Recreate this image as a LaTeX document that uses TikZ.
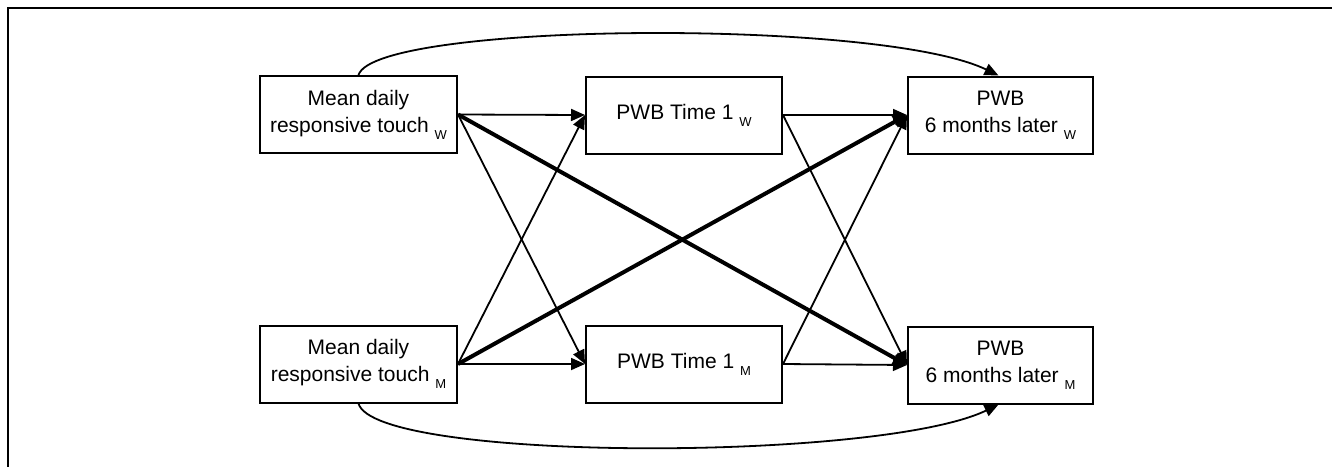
\documentclass[tikz,border=0pt]{standalone}
\usepackage{fontspec}
\setmainfont{Liberation Sans}
\usetikzlibrary{arrows.meta}
\newcommand\grp[1]{~\raisebox{-3.6pt}{\fontsize{6.5}{7}\selectfont #1}}

\begin{document}
\begin{tikzpicture}
      [x=0.5pt, y=-0.5pt,
      every node/.style={font=\fontsize{10.5}{13.5}\selectfont},
      varbox/.style={draw, line width=1pt, align=center, minimum height=38.5pt, inner sep=0pt},
      thinarrow/.style={line width=0.9pt, -{Triangle[length=7pt,width=6pt]}},
      thickarrow/.style={line width=2pt, -{Triangle[length=7pt,width=6pt]}}]
      \useasboundingbox (0,0) rectangle (1332,467);
      % frame
      \draw[line width=1pt] (1332,7.5) -- (8,7.5) -- (8,467);
      % variables
      \node[varbox, minimum width=98.5pt] (touchw) at (358.5,114.5) {Mean daily\\responsive touch\grp{W}};
      \node[varbox, minimum width=98.5pt] (touchm) at (358.5,364) {Mean daily\\responsive touch\grp{M}};
      \node[varbox, minimum width=98pt] (timew) at (684,115) {PWB Time 1\grp{W}};
      \node[varbox, minimum width=98pt] (timem) at (684,364) {PWB Time 1\grp{M}};
      \node[varbox, minimum width=92.5pt] (laterw) at (1000.5,115) {PWB\\6 months later\grp{W}};
      \node[varbox, minimum width=92.5pt] (laterm) at (1000.5,365) {PWB\\6 months later\grp{M}};
      % paths
      \draw[thinarrow] (touchw.east) -- (timew.west);
      \draw[thinarrow] (touchw.east) -- (timem.west);
      \draw[thickarrow] (touchw.east) -- (laterm.west);
      \draw[thinarrow] (touchm.east) -- (timem.west);
      \draw[thinarrow] (touchm.east) -- (timew.west);
      \draw[thickarrow] (touchm.east) -- (laterw.west);
      \draw[thinarrow] (timew.east) -- (laterw.west);
      \draw[thinarrow] (timew.east) -- (laterm.west);
      \draw[thinarrow] (timem.east) -- (laterm.west);
      \draw[thinarrow] (timem.east) -- (laterw.west);
      \draw[thinarrow] (touchw.north) .. controls (375,22) and (880,18) .. ([xshift=-1pt]laterw.north);
      \draw[thinarrow] (touchm.south) .. controls (375,462) and (880,462) .. ([xshift=-1pt]laterm.south);
    \end{tikzpicture}
\end{document}
